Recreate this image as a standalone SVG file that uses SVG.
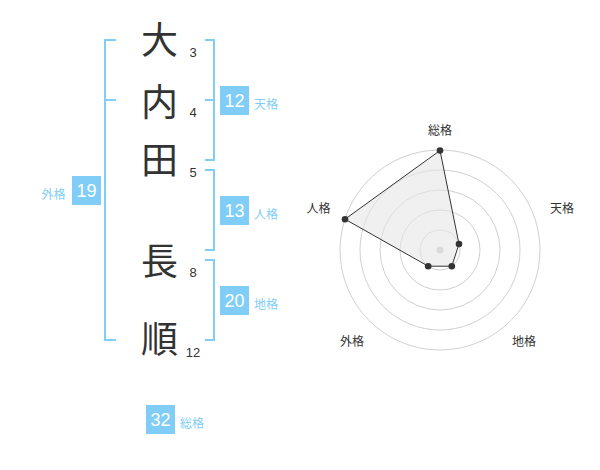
<svg xmlns="http://www.w3.org/2000/svg" width="600" height="470" viewBox="0 0 600 470">
<style>
.kan{font-family:"Noto Sans CJK JP","Noto Sans CJK SC",sans-serif;font-size:37px;fill:#333;text-anchor:middle}
.st{font-family:"Liberation Sans",Arial,sans-serif;font-size:13px;fill:#333;text-anchor:middle}
.br{fill:none;stroke:#80cdf8;stroke-width:2}
.box{fill:#80cdf8}
.num{font-family:"Liberation Sans",Arial,sans-serif;font-size:18px;fill:#fff;text-anchor:middle}
.lab{font-family:"Noto Sans CJK JP","Noto Sans CJK SC",sans-serif;font-size:12px;fill:#80cdf8}
.ring{fill:none;stroke:#d0d0d0;stroke-width:1}
.rl{font-family:"Noto Sans CJK JP","Noto Sans CJK SC",sans-serif;font-size:12px;fill:#333;text-anchor:middle}
.dot{fill:#333}
</style>
<rect width="600" height="470" fill="#fff"/>
<g id="chars">
<g id="c1"><text class="kan" x="159.5" y="53.5">大</text><text class="st" x="193" y="57">3</text></g>
<g id="c2"><text class="kan" x="159.5" y="115.5">内</text><text class="st" x="193" y="117">4</text></g>
<g id="c3"><text class="kan" x="159.5" y="174">田</text><text class="st" x="193" y="177">5</text></g>
<g id="c4"><text class="kan" x="159.5" y="274.5">長</text><text class="st" x="193" y="277">8</text></g>
<g id="c5"><text class="kan" x="159.5" y="352.5">順</text><text class="st" x="193" y="357">12</text></g>
</g>
<g id="connectors">
<path class="br" d="M116,40H105V340H116M105,100H116"/>
<path class="br" d="M205,40H214V160H205M205,100H214"/>
<path class="br" d="M205,170H214V250H205"/>
<path class="br" d="M205,260H214V340H205"/>
</g>
<g id="tenkaku"><rect class="box" x="220" y="86" width="29" height="29"/><text class="num" x="234.5" y="107">12</text><text class="lab" x="254" y="108.5">天格</text></g>
<g id="jinkaku"><rect class="box" x="220" y="196" width="29" height="29"/><text class="num" x="234.5" y="217">13</text><text class="lab" x="254" y="218.5">人格</text></g>
<g id="chikaku"><rect class="box" x="220" y="286" width="29" height="29"/><text class="num" x="234.5" y="307">20</text><text class="lab" x="254" y="308.5">地格</text></g>
<g id="gaikaku"><rect class="box" x="72" y="176" width="29" height="29"/><text class="num" x="86.5" y="197">19</text><text class="lab" x="41.5" y="198.5">外格</text></g>
<g id="soukaku"><rect class="box" x="146" y="405" width="29" height="29"/><text class="num" x="160.5" y="426">32</text><text class="lab" x="180" y="427.5">総格</text></g>
<g id="radar">
<circle class="ring" cx="440" cy="250" r="20"/>
<circle class="ring" cx="440" cy="250" r="40"/>
<circle class="ring" cx="440" cy="250" r="60"/>
<circle class="ring" cx="440" cy="250" r="80"/>
<circle class="ring" cx="440" cy="250" r="100"/>
<circle cx="440" cy="250" r="3.5" fill="#c8c8c8"/>
<polygon points="440,150.5 459,244 451.8,266.2 428.2,266.2 345,219.2" fill="#e6e6e6" fill-opacity="0.6" stroke="#333" stroke-width="1"/>
<circle class="dot" cx="440" cy="150.5" r="3.3"/>
<circle class="dot" cx="459" cy="244" r="3.3"/>
<circle class="dot" cx="451.8" cy="266.2" r="3.3"/>
<circle class="dot" cx="428.2" cy="266.2" r="3.3"/>
<circle class="dot" cx="345" cy="219.2" r="3.3"/>
<text class="rl" x="440" y="135">総格</text>
<text class="rl" x="562" y="213">天格</text>
<text class="rl" x="524" y="346">地格</text>
<text class="rl" x="352" y="346">外格</text>
<text class="rl" x="318.5" y="213">人格</text>
</g>
</svg>
